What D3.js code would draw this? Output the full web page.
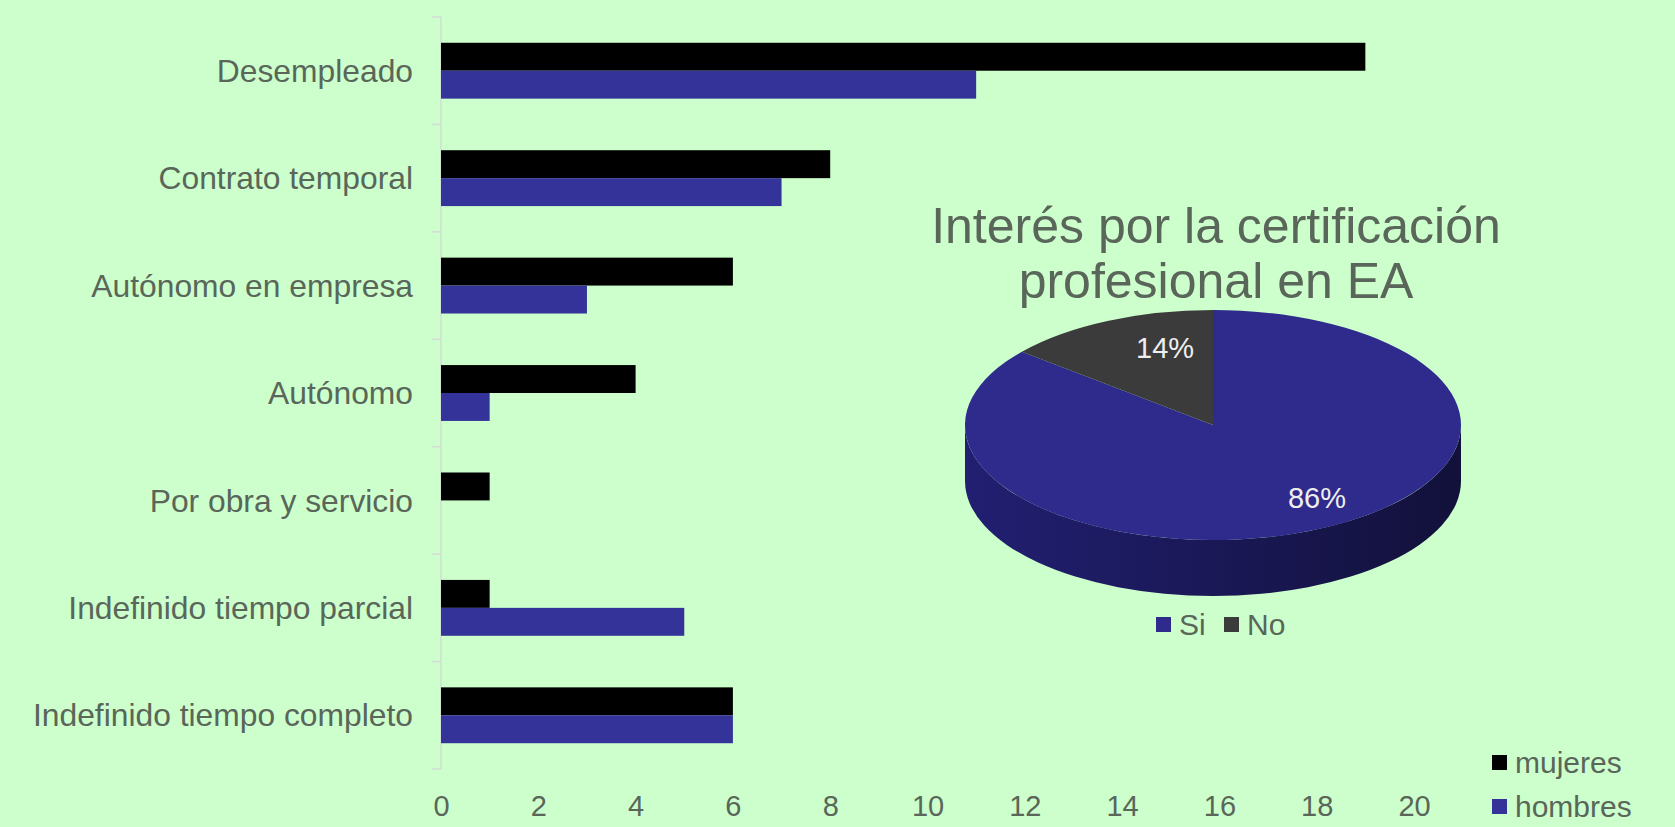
<!DOCTYPE html>
<html>
<head>
<meta charset="utf-8">
<script src="https://cdn.jsdelivr.net/npm/d3@7"></script>
<style>
    body { margin: 0; background: #ccffcc; }
    svg { display: block; font-family: "Liberation Sans", Arial, sans-serif; }
</style>
</head>
<body>
<svg id="grafiek" width="1675" height="827"></svg>
<script>
// categorieen van boven naar beneden
let categorieen = ["Desempleado", "Contrato temporal", "Autónomo en empresa", "Autónomo",
    "Por obra y servicio", "Indefinido tiempo parcial", "Indefinido tiempo completo"];
let mujeres = [19, 8, 6, 4, 1, 1, 6];
let hombres = [11, 7, 3, 1, 0, 5, 6];
let xTicks = [0, 2, 4, 6, 8, 10, 12, 14, 16, 18, 20];

// taart gegevens
let taartLabels = ["Si", "No"];
let taartWaarden = [86, 14];
let taartTitel = ["Interés por la certificación", "profesional en EA"];

let tekstKleur = "#596659";
let svg = d3.select("#grafiek");

//schalen
var xScale = d3.scaleLinear()
    .domain([0, 20])
    .range([441, 1414]);

var yScale = d3.scaleBand()
    .domain(categorieen)
    .range([17, 769])
    .paddingInner(0.48)
    .paddingOuter(0.24);

var subScale = d3.scaleBand()
    .domain(["mujeres", "hombres"])
    .range([0, yScale.bandwidth()]);

// as lijn met streepjes tussen de categorieen
svg.append("line")
    .attr("x1", xScale(0)).attr("x2", xScale(0))
    .attr("y1", 17).attr("y2", 769)
    .attr("stroke", "#d4dcd4").attr("stroke-width", 1.5);

let stap = yScale.step();
for (let i = 0; i <= categorieen.length; i++) {
    let y = 17 + i * stap;
    svg.append("line")
        .attr("x1", xScale(0) - 9).attr("x2", xScale(0))
        .attr("y1", y).attr("y2", y)
        .attr("stroke", "#d4dcd4").attr("stroke-width", 1.5);
}

// categorie labels
svg.selectAll(".cat")
    .data(categorieen)
    .join("text")
    .attr("class", "cat")
    .attr("x", 413)
    .attr("y", function (d) { return yScale(d) + yScale.bandwidth() / 2; })
    .attr("dy", "0.35em")
    .attr("text-anchor", "end")
    .attr("font-size", 31.8)
    .attr("fill", tekstKleur)
    .text(function (d) { return d; });

// x as met getallen
var xAxis = d3.axisBottom(xScale).tickValues(xTicks).tickSize(0).tickPadding(0);
var xg = svg.append("g")
    .attr("transform", "translate(0,795)")
    .call(xAxis);
xg.select(".domain").remove();
xg.selectAll("text")
    .attr("font-size", 29)
    .attr("font-family", "'Liberation Sans', Arial, sans-serif")
    .attr("fill", tekstKleur);

// balken mujeres
svg.selectAll(".muj")
    .data(categorieen)
    .join("rect")
    .attr("class", "muj")
    .attr("x", xScale(0))
    .attr("y", function (d) { return yScale(d) + subScale("mujeres"); })
    .attr("width", function (d, i) { return xScale(mujeres[i]) - xScale(0); })
    .attr("height", subScale.bandwidth())
    .attr("fill", "#000000");

// balken hombres
svg.selectAll(".hom")
    .data(categorieen)
    .join("rect")
    .attr("class", "hom")
    .attr("x", xScale(0))
    .attr("y", function (d) { return yScale(d) + subScale("hombres"); })
    .attr("width", function (d, i) { return xScale(hombres[i]) - xScale(0); })
    .attr("height", subScale.bandwidth())
    .attr("fill", "#333399");

// legenda balken
let legBalk = [["mujeres", "#000000", 762], ["hombres", "#333399", 806]];
legBalk.forEach(function (l) {
    svg.append("rect").attr("x", 1492).attr("y", l[2] - 7).attr("width", 15).attr("height", 15).attr("fill", l[1]);
    svg.append("text").attr("x", 1515).attr("y", l[2]).attr("dy", "0.35em")
        .attr("font-size", 30).attr("fill", tekstKleur).text(l[0]);
});

// ---- taart ----
let cx = 1213, cy = 425, rx = 248, ry = 115, diepte = 56;
let taartKleuren = ["#2e2b8c", "#3b3b3b"];

// titel
svg.selectAll(".titel")
    .data(taartTitel)
    .join("text")
    .attr("class", "titel")
    .attr("x", 1216)
    .attr("y", function (d, i) { return 243 + i * 55; })
    .attr("text-anchor", "middle")
    .attr("font-size", 50)
    .attr("fill", tekstKleur)
    .text(function (d) { return d; });

// verloop voor de zijkant
var defs = svg.append("defs");
var grad = defs.append("linearGradient").attr("id", "zijkant").attr("x1", "0").attr("x2", "1");
grad.append("stop").attr("offset", "0").attr("stop-color", "#221f72");
grad.append("stop").attr("offset", "0.5").attr("stop-color", "#1a1856");
grad.append("stop").attr("offset", "1").attr("stop-color", "#12113a");

svg.append("path")
    .attr("d", "M" + (cx - rx) + "," + cy +
        " A" + rx + "," + ry + " 0 0 0 " + (cx + rx) + "," + cy +
        " L" + (cx + rx) + "," + (cy + diepte) +
        " A" + rx + "," + ry + " 0 0 1 " + (cx - rx) + "," + (cy + diepte) + " Z")
    .attr("fill", "url(#zijkant)");

var pie = d3.pie().sort(null);
var stukken = pie(taartWaarden);
var arc = d3.arc().innerRadius(0).outerRadius(rx);
var labelArc = d3.arc().innerRadius(rx * 0.7).outerRadius(rx * 0.7);

var taart = svg.append("g")
    .attr("transform", "translate(" + cx + "," + cy + ") scale(1," + (ry / rx) + ")");
taart.selectAll("path")
    .data(stukken)
    .join("path")
    .attr("d", arc)
    .attr("fill", function (d, i) { return taartKleuren[i]; });

// percentages
svg.selectAll(".pct")
    .data(stukken)
    .join("text")
    .attr("class", "pct")
    .attr("x", function (d) { return cx + labelArc.centroid(d)[0] + (d.index == 0 ? 30 : 26); })
    .attr("y", function (d) { return cy + labelArc.centroid(d)[1] * ry / rx + (d.index == 0 ? 0 : -4); })
    .attr("dy", "0.35em")
    .attr("text-anchor", "middle")
    .attr("font-size", 29)
    .attr("fill", "#eeeeee")
    .text(function (d) { return d.data + "%"; });

// legenda taart
let legX = [1156, 1224];
taartLabels.forEach(function (l, i) {
    svg.append("rect").attr("x", legX[i]).attr("y", 617).attr("width", 15).attr("height", 15).attr("fill", taartKleuren[i]);
    svg.append("text").attr("x", legX[i] + 23).attr("y", 624).attr("dy", "0.35em")
        .attr("font-size", 30).attr("fill", tekstKleur).text(l);
});
</script>
</body>
</html>
